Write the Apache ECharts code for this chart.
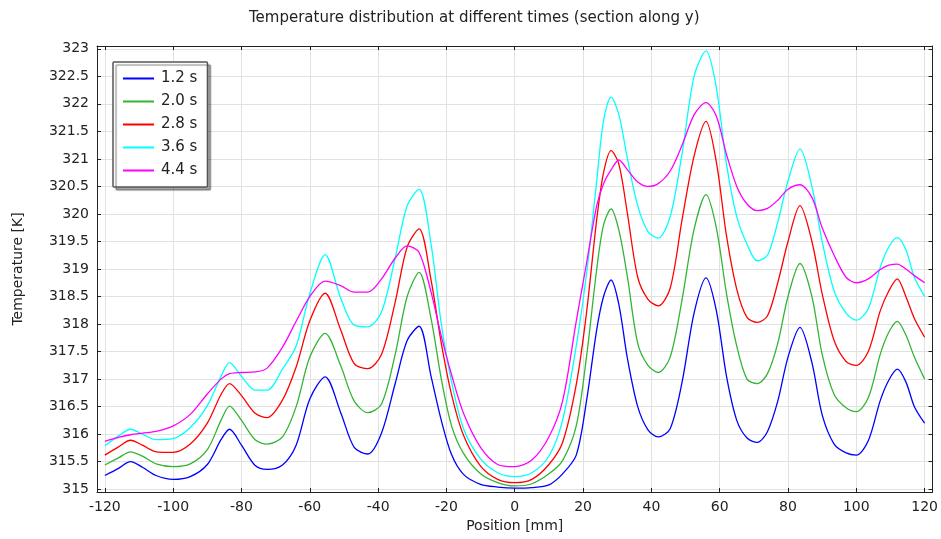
<!DOCTYPE html>
<html>
<head>
<meta charset="utf-8">
<script src="https://cdn.jsdelivr.net/npm/echarts@6/dist/echarts.min.js"></script>
<style>
html,body{margin:0;padding:0;background:#fff;}
#chart{width:941px;height:539px;}
</style>
</head>
<body>
<div id="chart"></div>
<script>
// ---- data ----
const titleText = 'Temperature distribution at different times (section along y)';
const xName = 'Position [mm]';
const yName = 'Temperature [K]';
const seriesNames = ['1.2 s', '2.0 s', '2.8 s', '3.6 s', '4.4 s'];
const seriesColors = ['#0000ff', '#33b533', '#ff0000', '#00ffff', '#ff00ff'];

const posX = [-120, -116, -112.5, -109, -105, -100, -95, -90, -86, -83.5, -80, -76, -72.5, -68, -64, -60, -55.5, -51, -47, -43, -39, -35, -31.5, -28, -24.5, -21.5, -18.5, -15, -10, -5, 0, 5, 10, 14, 18, 21, 24, 26, 28.2, 30.5, 33, 36, 39, 42, 45.5, 49, 52.5, 56, 59, 62, 65, 68, 71, 74, 77, 80, 83.5, 87, 90, 93.5, 97, 100, 103.5, 107, 109.5, 112, 114.5, 117, 120];

const t12 = [315.25, 315.38, 315.50, 315.40, 315.25, 315.18, 315.23, 315.45, 315.90, 316.09, 315.80, 315.43, 315.36, 315.44, 315.80, 316.64, 317.04, 316.40, 315.76, 315.64, 316.02, 316.92, 317.70, 317.96, 317.05, 316.25, 315.63, 315.27, 315.09, 315.04, 315.02, 315.03, 315.08, 315.28, 315.62, 316.60, 317.90, 318.50, 318.80, 318.35, 317.37, 316.50, 316.08, 315.95, 316.10, 316.95, 318.20, 318.84, 318.25, 317.05, 316.25, 315.93, 315.85, 316.05, 316.60, 317.40, 317.94, 317.30, 316.35, 315.82, 315.66, 315.62, 315.88, 316.61, 316.98, 317.18, 316.95, 316.50, 316.20];

const t20 = [315.44, 315.57, 315.68, 315.60, 315.46, 315.41, 315.46, 315.72, 316.25, 316.51, 316.25, 315.90, 315.82, 315.95, 316.50, 317.40, 317.83, 317.25, 316.60, 316.39, 316.55, 317.45, 318.50, 318.94, 318.10, 317.00, 316.15, 315.65, 315.28, 315.12, 315.06, 315.10, 315.28, 315.52, 316.15, 317.40, 319.00, 319.80, 320.09, 319.70, 318.85, 317.65, 317.25, 317.12, 317.40, 318.45, 319.72, 320.35, 319.75, 318.55, 317.60, 317.00, 316.92, 317.10, 317.65, 318.50, 319.10, 318.50, 317.45, 316.72, 316.48, 316.41, 316.66, 317.45, 317.85, 318.05, 317.80, 317.40, 317.00];

const t28 = [315.62, 315.77, 315.89, 315.80, 315.68, 315.67, 315.82, 316.20, 316.72, 316.92, 316.70, 316.38, 316.30, 316.62, 317.22, 318.06, 318.56, 317.90, 317.28, 317.19, 317.45, 318.40, 319.40, 319.73, 318.80, 317.65, 316.72, 315.98, 315.42, 315.18, 315.12, 315.18, 315.45, 315.85, 316.90, 318.20, 319.90, 320.75, 321.15, 320.90, 320.00, 318.85, 318.45, 318.33, 318.65, 319.90, 321.05, 321.68, 320.95, 319.60, 318.63, 318.12, 318.03, 318.15, 318.75, 319.50, 320.15, 319.50, 318.55, 317.70, 317.32, 317.25, 317.50, 318.24, 318.60, 318.82, 318.50, 318.10, 317.76];

const t36 = [315.79, 315.97, 316.09, 316.00, 315.90, 315.92, 316.12, 316.52, 317.05, 317.30, 317.05, 316.80, 316.80, 317.18, 317.60, 318.55, 319.26, 318.48, 317.98, 317.95, 318.22, 319.20, 320.15, 320.45, 319.45, 318.00, 316.95, 316.10, 315.55, 315.30, 315.23, 315.30, 315.60, 316.25, 317.60, 318.90, 320.60, 321.70, 322.12, 321.80, 321.00, 320.15, 319.68, 319.56, 319.95, 321.10, 322.50, 322.96, 322.30, 320.90, 319.95, 319.45, 319.15, 319.25, 319.85, 320.60, 321.18, 320.50, 319.50, 318.60, 318.20, 318.07, 318.28, 319.03, 319.40, 319.57, 319.35, 318.85, 318.50];

const t44 = [315.87, 315.94, 315.99, 316.02, 316.05, 316.15, 316.36, 316.73, 317.00, 317.10, 317.12, 317.13, 317.20, 317.58, 318.05, 318.50, 318.78, 318.70, 318.58, 318.58, 318.82, 319.20, 319.42, 319.30, 318.58, 317.78, 317.08, 316.38, 315.76, 315.45, 315.41, 315.53, 315.95, 316.60, 318.05, 319.10, 320.15, 320.55, 320.80, 320.98, 320.80, 320.58, 320.50, 320.55, 320.78, 321.25, 321.80, 322.02, 321.78, 321.08, 320.50, 320.18, 320.06, 320.10, 320.25, 320.45, 320.53, 320.30, 319.75, 319.25, 318.85, 318.75, 318.82, 318.99, 319.07, 319.09, 319.00, 318.88, 318.75];

const temps = [t12, t20, t28, t36, t44];

// ---- chart ----
const FONT = 'DejaVu Sans';
const TXT = '#222';
const X_MIN = -122.3, X_MAX = 122.3, X_STEP = 20;
const Y_MIN = 314.95, Y_MAX = 323.05, Y_STEP = 0.5;

function stepFmt(step) {
  return function (v) {
    const r = Math.round(v / step) * step;
    if (Math.abs(v - r) > 1e-6) return '';
    return String(Math.round(r * 100) / 100);
  };
}

const axisLineStyle = { show: true, onZero: false, lineStyle: { color: '#222', width: 1 } };
const tickStyle = { show: true, inside: true, length: 4, lineStyle: { color: '#222', width: 1 } };

function xAxisDef(pos, main) {
  return {
    type: 'value', position: pos, min: X_MIN, max: X_MAX,
    minInterval: X_STEP, maxInterval: X_STEP, splitNumber: 12,
    axisLine: axisLineStyle, axisTick: tickStyle,
    axisLabel: main ? { show: true, margin: 8, color: TXT, fontFamily: FONT, fontSize: 14, formatter: stepFmt(X_STEP) } : { show: false },
    splitLine: main ? { show: true, lineStyle: { color: '#e2e2e2', width: 1 } } : { show: false },
    name: main ? xName : '', nameLocation: 'middle', nameGap: 24,
    nameTextStyle: { color: TXT, fontFamily: FONT, fontSize: 14 }
  };
}
function yAxisDef(pos, main) {
  return {
    type: 'value', position: pos, min: Y_MIN, max: Y_MAX,
    minInterval: Y_STEP, maxInterval: Y_STEP, splitNumber: 16,
    axisLine: axisLineStyle, axisTick: tickStyle,
    axisLabel: main ? { show: true, margin: 8, color: TXT, fontFamily: FONT, fontSize: 14, formatter: stepFmt(Y_STEP) } : { show: false },
    splitLine: main ? { show: true, lineStyle: { color: '#e2e2e2', width: 1 } } : { show: false },
    name: main ? yName : '', nameLocation: 'middle', nameGap: 72,
    nameTextStyle: { color: TXT, fontFamily: FONT, fontSize: 14 }
  };
}

const series = seriesNames.map(function (name, i) {
  return {
    name: name, type: 'line', xAxisIndex: 0, yAxisIndex: 0,
    showSymbol: false, smooth: 0.3,
    lineStyle: { color: seriesColors[i], width: 1.3 },
    itemStyle: { color: seriesColors[i] },
    data: posX.map(function (x, k) { return [x, temps[i][k]]; })
  };
});

const chart = echarts.init(document.getElementById('chart'), null, { renderer: 'canvas' });
chart.setOption({
  animation: false,
  backgroundColor: '#fff',
  textStyle: { fontFamily: FONT },
  title: {
    text: titleText, left: 249, top: 11, padding: 0,
    textStyle: { color: TXT, fontFamily: FONT, fontSize: 15, fontWeight: 'normal' }
  },
  grid: { left: 97, right: 8, top: 46, bottom: 47, containLabel: false },
  legend: {
    orient: 'vertical', left: 113, top: 62,
    padding: [9, 10, 9, 10],
    itemWidth: 31, itemHeight: 2, itemGap: 8,
    icon: 'rect',
    backgroundColor: '#fff',
    borderColor: '#555', borderWidth: 1.5, borderRadius: 1,
    shadowColor: 'rgba(0,0,0,0.35)', shadowBlur: 1, shadowOffsetX: 3, shadowOffsetY: 3,
    textStyle: { color: TXT, fontFamily: FONT, fontSize: 15, lineHeight: 14, padding: [0, 0, 0, 2] },
    data: seriesNames
  },
  xAxis: [xAxisDef('bottom', true), xAxisDef('top', false)],
  yAxis: [yAxisDef('left', true), yAxisDef('right', false)],
  series: series
});
</script>
</body>
</html>
